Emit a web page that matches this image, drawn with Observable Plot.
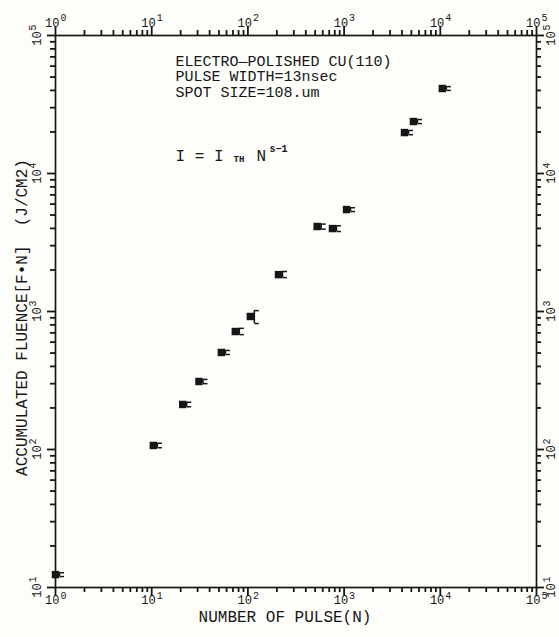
<!DOCTYPE html>
<html><head><meta charset="utf-8">
<script src="https://cdn.jsdelivr.net/npm/d3@7"></script>
<script src="https://cdn.jsdelivr.net/npm/@observablehq/plot@0.6"></script>
<style>
html,body{margin:0;padding:0;background:#fdfdf9;}
#chart svg{display:block;background:#fdfdf9;}
</style></head><body><div id="chart"></div>
<script>
// ---- data ----
const pulses      = [1,    10.4, 21,  31,  53,  74,  106, 208,  525,  757,  1060, 4245,  5260,  10500];
const fluence     = [12.4, 107,  212, 311, 505, 716, 920, 1850, 4130, 3990, 5480, 19800, 23800, 41300];
const fluenceLow  = [12.0, 103,  204, 300, 488, 680, 818, 1760, 3950, 3800, 5300, 19100, 23000, 40000];
const fluenceHigh = [12.8, 111,  220, 322, 522, 755, 1015,1950, 4300, 4180, 5650, 20500, 24600, 42600];

const xMajor = [1, 10, 100, 1000, 10000, 100000];
const xExp   = ["0", "1", "2", "3", "4", "5"];
const yMajor = [10, 100, 1000, 10000, 100000];
const yExp   = ["1", "2", "3", "4", "5"];

const annotationLines = ["ELECTRO\u2014POLISHED CU(110)", "PULSE WIDTH=13nsec", "SPOT SIZE=108.um"];
const formulaMain = "I = I";
const formulaSub = "TH";
const formulaN = "N";
const formulaSup = "s\u22121";
const xTitle = "NUMBER OF PULSE(N)";
const yTitle = "ACCUMULATED FLUENCE[F\u2022N]  (J/CM2)";

// ---- derived tables ----
const rows = pulses.map((n, i) => ({n, f: fluence[i], lo: fluenceLow[i], hi: fluenceHigh[i]}));
const minorOf = (majors) => majors.slice(0, -1).flatMap(d => [2,3,4,5,6,7,8,9].map(k => d * k));
const xMinor = minorOf(xMajor);
const yMinor = minorOf(yMajor);

// ---- layout ----
const W = 559, H = 637, mL = 55, mR = 23, mT = 35, mB = 50;
const FW = W - mL - mR, FH = H - mT - mB;   // frame size in px

const ink = "#161616";
const font = "Liberation Mono, DejaVu Sans Mono, monospace";
const capSymbol = {draw(ctx) { ctx.moveTo(0, 0); ctx.lineTo(4.5, 0); }};
const tk = {stroke: ink, strokeWidth: 1.8};

// outward tick marks drawn as rules with negative insets
const xTicks = (vals, len) => [
  Plot.ruleX(vals, {x: d => d, insetTop: -len, insetBottom: FH, ...tk}),   // top
  Plot.ruleX(vals, {x: d => d, insetTop: FH, insetBottom: -len, ...tk})    // bottom
];
const yTicks = (vals, len) => [
  Plot.ruleY(vals, {y: d => d, insetLeft: -len, insetRight: FW, ...tk}),   // left
  Plot.ruleY(vals, {y: d => d, insetLeft: FW, insetRight: -len, ...tk})    // right
];

const chart = Plot.plot({
  width: W, height: H,
  marginLeft: mL, marginRight: mR, marginTop: mT, marginBottom: mB,
  style: {background: "#fdfdf9", fontFamily: font, color: ink},
  x: {type: "log", domain: [1, 1e5], axis: null},
  y: {type: "log", domain: [10, 1e5], axis: null},
  marks: [
    ...xTicks(xMajor, 9), ...xTicks(xMinor, 5),
    ...yTicks(yMajor, 8), ...yTicks(yMinor, 5),
    Plot.frame({stroke: ink, strokeWidth: 1.7}),

    // tick labels: bottom
    Plot.text(xMajor, {x: d => d, frameAnchor: "bottom", text: () => "10", textAnchor: "end", dx: 4, dy: 16, fontSize: 12, fill: ink}),
    Plot.text(xMajor, {x: d => d, frameAnchor: "bottom", text: (d, i) => xExp[i], textAnchor: "start", dx: 5, dy: 11, fontSize: 10, fill: ink}),
    // top
    Plot.text(xMajor, {x: d => d, frameAnchor: "top", text: () => "10", textAnchor: "end", dx: 4, dy: -17, fontSize: 12, fill: ink}),
    Plot.text(xMajor, {x: d => d, frameAnchor: "top", text: (d, i) => xExp[i], textAnchor: "start", dx: 5, dy: -22, fontSize: 10, fill: ink}),
    // left (rotated)
    Plot.text(yMajor, {y: d => d, frameAnchor: "left", text: () => "10", rotate: -90, textAnchor: "middle", dx: -18, dy: 3, fontSize: 12, fill: ink}),
    Plot.text(yMajor, {y: d => d, frameAnchor: "left", text: (d, i) => yExp[i], rotate: -90, textAnchor: "start", dx: -23, dy: -5, fontSize: 10, fill: ink}),
    // right (rotated)
    Plot.text(yMajor, {y: d => d, frameAnchor: "right", text: () => "10", rotate: -90, textAnchor: "middle", dx: 15, dy: 3, fontSize: 12, fill: ink}),
    Plot.text(yMajor, {y: d => d, frameAnchor: "right", text: (d, i) => yExp[i], rotate: -90, textAnchor: "start", dx: 10, dy: -5, fontSize: 10, fill: ink}),

    // axis titles
    Plot.text([xTitle], {frameAnchor: "bottom", textAnchor: "middle", dx: -11, dy: 34, fontSize: 16, fill: ink, ariaLabel: "spaced"}),
    Plot.text([yTitle], {frameAnchor: "left", textAnchor: "middle", rotate: -90, dx: -34, dy: 6, fontSize: 16, fill: ink, ariaLabel: "spaced"}),

    // annotation
    Plot.text([annotationLines.join("\n")], {frameAnchor: "top-left", dx: 120, dy: 19, textAnchor: "start", lineAnchor: "top", lineHeight: 1.05, fontSize: 15, fill: ink, ariaLabel: "spaced2"}),
    Plot.text([formulaMain], {frameAnchor: "top-left", dx: 120, dy: 114, textAnchor: "start", fontSize: 16, fill: ink, ariaLabel: "spaced3"}),
    Plot.text([formulaSub], {frameAnchor: "top-left", dx: 178, dy: 120, textAnchor: "start", fontSize: 9, fontWeight: "bold", fill: ink}),
    Plot.text([formulaN], {frameAnchor: "top-left", dx: 201, dy: 114, textAnchor: "start", fontSize: 16, fill: ink}),
    Plot.text([formulaSup], {frameAnchor: "top-left", dx: 214, dy: 109, textAnchor: "start", fontSize: 10, fontWeight: "bold", fill: ink}),

    // data: error bars and squares
    Plot.ruleX(rows, {x: "n", y1: "lo", y2: "hi", dx: 4, stroke: ink, strokeWidth: 1.5}),
    Plot.dot(rows, {x: "n", y: "lo", symbol: capSymbol, r: 3, dx: 4, fill: "none", stroke: ink, strokeWidth: 1.5}),
    Plot.dot(rows, {x: "n", y: "hi", symbol: capSymbol, r: 3, dx: 4, fill: "none", stroke: ink, strokeWidth: 1.5}),
    Plot.dot(rows, {x: "n", y: "f", symbol: "square", r: 4.2, fill: ink, stroke: "none"})
  ]
});
d3.select(chart).selectAll('g[aria-label="spaced"] text').style("letter-spacing", "1.2px");
d3.select(chart).selectAll('g[aria-label="spaced2"] text').style("letter-spacing", "2.6px");
d3.select(chart).selectAll('g[aria-label="spaced3"] text').style("letter-spacing", "1.8px");
document.getElementById("chart").appendChild(chart);
</script></body></html>
